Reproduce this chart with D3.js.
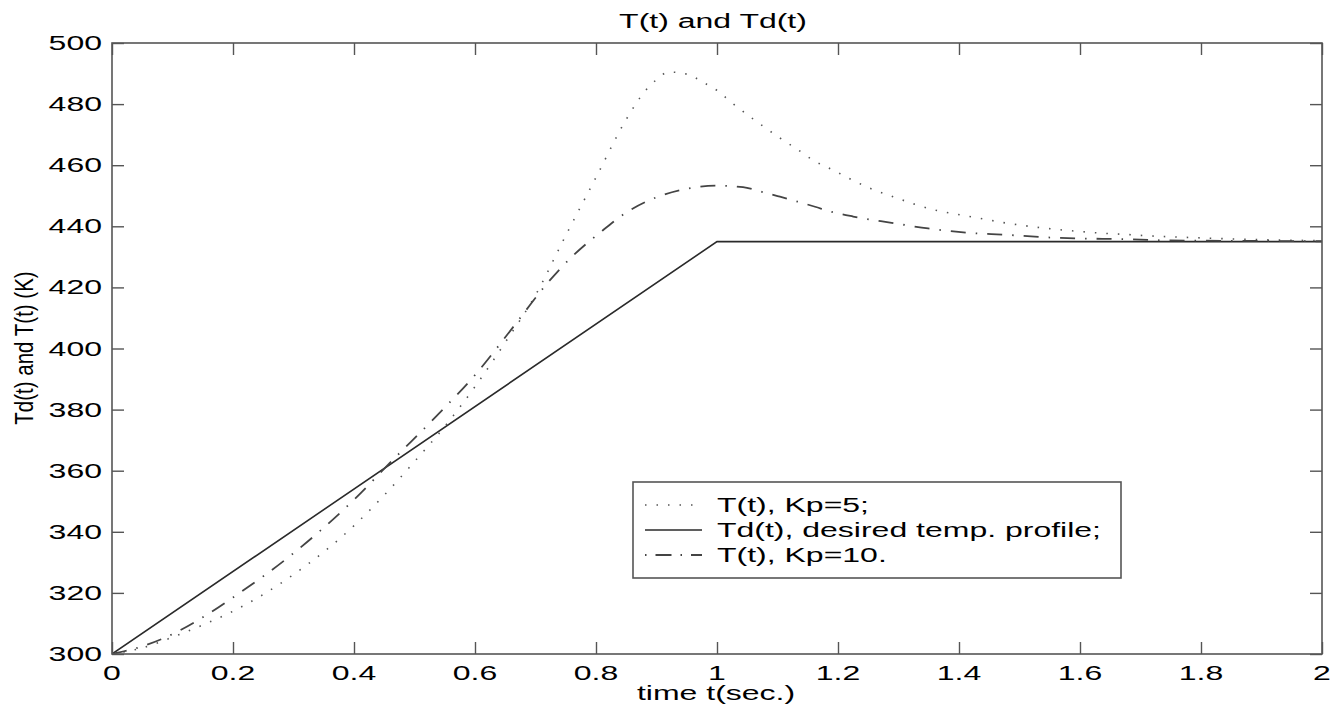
<!DOCTYPE html>
<html>
<head>
<meta charset="utf-8">
<script src="https://cdn.jsdelivr.net/npm/d3@7"></script>
<style>
  html, body { margin: 0; padding: 0; background: #fff; }
  svg { display: block; }
  text { font-family: "Liberation Sans", Arial, Helvetica, sans-serif; fill: #000; }
</style>
</head>
<body>
<svg id="chart" width="1340" height="708"></svg>
<script>
// ---- data ----
const titleText = "T(t) and Td(t)";
const xLabelText = "time t(sec.)";
const yLabelText = "Td(t) and T(t) (K)";

const xTicks = [0, 0.2, 0.4, 0.6, 0.8, 1, 1.2, 1.4, 1.6, 1.8, 2];
const xTickLabels = ["0", "0.2", "0.4", "0.6", "0.8", "1", "1.2", "1.4", "1.6", "1.8", "2"];
const yTicks = [300, 320, 340, 360, 380, 400, 420, 440, 460, 480, 500];
const yTickLabels = ["300", "320", "340", "360", "380", "400", "420", "440", "460", "480", "500"];

const legendLabels = ["T(t), Kp=5;", "Td(t), desired temp. profile;", "T(t), Kp=10."];

// desired profile Td(t)
const tTd = [0, 1, 2];
const vTd = [300, 435, 435];

// T(t), Kp=5 (dotted)
const tKp5 = [0, 0.05, 0.1, 0.15, 0.2, 0.3, 0.4, 0.45, 0.5, 0.55, 0.6, 0.65, 0.7, 0.75, 0.8, 0.85, 0.88, 0.9, 0.92, 0.95, 0.98, 1.0, 1.024, 1.051, 1.076, 1.104, 1.132, 1.16, 1.192, 1.223, 1.256, 1.291, 1.327, 1.365, 1.403, 1.44, 1.48, 1.52, 1.56, 1.6, 1.64, 1.68, 1.72, 1.76, 1.8, 1.9, 2.0];
const vKp5 = [300, 302, 305.5, 309.5, 314, 326, 342, 352, 363, 374.5, 387.5, 402, 417.5, 437, 456, 475, 484, 488, 490.5, 489.8, 486.8, 484.5, 480.5, 476.4, 472.8, 468.9, 465.3, 461.5, 458.4, 455.2, 452.2, 449.7, 447.2, 445.1, 443.7, 442.4, 441, 439.9, 439, 438.3, 437.7, 437.3, 436.8, 436.5, 436.2, 435.6, 435.3];

// T(t), Kp=10 (dash-dot)
const tKp10 = [0, 0.05, 0.1, 0.15, 0.2, 0.3, 0.4, 0.464, 0.537, 0.603, 0.663, 0.718, 0.76, 0.807, 0.85, 0.9, 0.95, 1.0, 1.043, 1.074, 1.104, 1.133, 1.162, 1.192, 1.225, 1.286, 1.349, 1.413, 1.479, 1.542, 1.605, 1.671, 1.737, 1.8, 1.9, 2.0];
const vKp10 = [300, 302.5, 306.5, 312, 318.5, 333, 350.5, 363.5, 378, 392, 407, 421, 430, 438, 444.5, 449.5, 452.3, 453.3, 452.8, 451.3, 449.7, 448.1, 446.4, 444.6, 443.2, 441.2, 439.3, 437.9, 437.2, 436.4, 436, 435.8, 435.4, 435.3, 435.2, 435.1];

// ---- layout ----
const M = { left: 112, right: 1322, top: 43, bottom: 654 };
const SX = 1.6;          // horizontal text stretch of the reference
const FS = 20;

const svg = d3.select("#chart");
const x = d3.scaleLinear().domain([0, 2]).range([M.left, M.right]);
const y = d3.scaleLinear().domain([300, 500]).range([M.bottom, M.top]);

function stext(g, str, px, py, anchor) {
  return g.append("text")
    .attr("transform", `translate(${px},${py}) scale(${SX},1)`)
    .attr("text-anchor", anchor || "middle")
    .attr("font-size", FS)
    .text(str);
}

const zip = (ts, vs) => ts.map((t, i) => [t, vs[i]]);
const line = d3.line().x(d => x(d[0])).y(d => y(d[1]));
const smooth = d3.line().x(d => x(d[0])).y(d => y(d[1])).curve(d3.curveMonotoneX);

// clip
svg.append("clipPath").attr("id", "clip")
  .append("rect").attr("x", M.left).attr("y", M.top)
  .attr("width", M.right - M.left).attr("height", M.bottom - M.top);

const plot = svg.append("g").attr("clip-path", "url(#clip)");

// series
plot.append("path").datum(zip(tTd, vTd))
  .attr("d", line).attr("fill", "none")
  .attr("stroke", "#2a2a2a").attr("stroke-width", 1.6);

plot.append("path").datum(zip(tKp5, vKp5))
  .attr("d", smooth).attr("fill", "none")
  .attr("stroke", "#555").attr("stroke-width", 1.6)
  .attr("stroke-dasharray", "1.5,10");

plot.append("path").datum(zip(tKp10, vKp10))
  .attr("d", smooth).attr("fill", "none")
  .attr("stroke", "#444").attr("stroke-width", 1.8)
  .attr("stroke-dasharray", "15,10,1.5,10");

// axes (ticks inward, mirrored on top/right)
const axColor = "#555";
const TL = 12;
const axG = svg.append("g");
const xAxisB = d3.axisBottom(x).tickValues(xTicks).tickSize(-TL).tickFormat("");
const xAxisT = d3.axisTop(x).tickValues(xTicks).tickSize(-TL).tickFormat("");
const yAxisL = d3.axisLeft(y).tickValues(yTicks).tickSize(-TL).tickFormat("");
const yAxisR = d3.axisRight(y).tickValues(yTicks).tickSize(-TL).tickFormat("");

[[xAxisB, `translate(0,${M.bottom})`], [xAxisT, `translate(0,${M.top})`],
 [yAxisL, `translate(${M.left},0)`], [yAxisR, `translate(${M.right},0)`]].forEach(([ax, tr]) => {
  const g = axG.append("g").attr("transform", tr).call(ax);
  g.select(".domain").remove();
  g.selectAll(".tick line").attr("stroke", axColor).attr("stroke-width", 1.4);
});

axG.append("rect")
  .attr("x", M.left).attr("y", M.top)
  .attr("width", M.right - M.left).attr("height", M.bottom - M.top)
  .attr("fill", "none").attr("stroke", axColor).attr("stroke-width", 1.6);

// tick labels
const labG = svg.append("g");
xTicks.forEach((v, i) => stext(labG, xTickLabels[i], x(v), 680, "middle"));
yTicks.forEach((v, i) => stext(labG, yTickLabels[i], 102, y(v) + 7, "end"));

// title & axis labels
stext(svg, titleText, 713, 28, "middle");
stext(svg, xLabelText, 716, 700, "middle");
svg.append("text")
  .attr("transform", `translate(33,348) scale(1.25,1) rotate(-90)`)
  .attr("text-anchor", "middle")
  .attr("font-size", 20.5)
  .text(yLabelText);

// legend
const lg = svg.append("g");
const LB = { x: 633, y: 482, w: 488, h: 96 };
lg.append("rect").attr("x", LB.x).attr("y", LB.y).attr("width", LB.w).attr("height", LB.h)
  .attr("fill", "#fff").attr("stroke", axColor).attr("stroke-width", 1.6);
const rowY = [505, 530, 555];
const styles = [
  { stroke: "#555", w: 1.6, dash: "1.5,10" },
  { stroke: "#2a2a2a", w: 1.6, dash: null },
  { stroke: "#444", w: 1.8, dash: "1.5,9,16,9" }
];
legendLabels.forEach((lab, i) => {
  const l = lg.append("line")
    .attr("x1", 645).attr("x2", 702).attr("y1", rowY[i]).attr("y2", rowY[i])
    .attr("stroke", styles[i].stroke).attr("stroke-width", styles[i].w);
  if (styles[i].dash) l.attr("stroke-dasharray", styles[i].dash);
  stext(lg, lab, 717, rowY[i] + 7, "start");
});
</script>
</body>
</html>
